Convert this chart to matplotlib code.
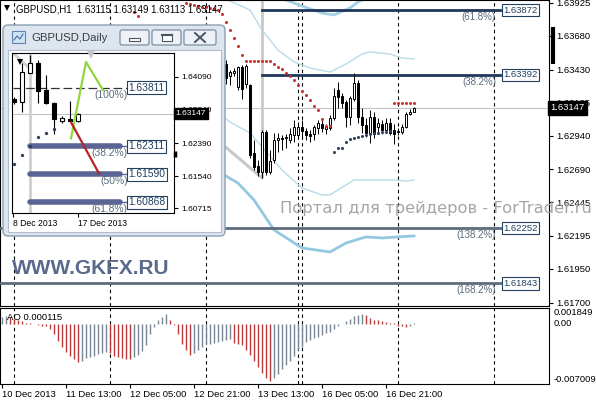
import numpy as np
import matplotlib.pyplot as plt
from matplotlib.patches import Rectangle, FancyBboxPatch
from matplotlib import transforms

plt.rcParams['font.family'] = ['Liberation Sans', 'DejaVu Sans']

W, H = 596, 400

# ---------------- GBPUSD H1 (bar 0 = 10 Dec 21:00) ----------------
bar_k = list(range(56, 104))
bar_open = [1.63472, 1.63383, 1.63405, 1.63301, 1.63450, 1.63323, 1.63316, 1.62811,
            1.62715, 1.62670, 1.62967, 1.62670, 1.62759, 1.62908, 1.62922, 1.62922,
            1.62908, 1.62945, 1.62945, 1.63004, 1.62974, 1.62952, 1.62952, 1.62997,
            1.63026, 1.62989, 1.62997, 1.63071, 1.63279, 1.63234, 1.63190, 1.63078,
            1.63212, 1.63331, 1.63078, 1.63019, 1.62960, 1.63078, 1.63004, 1.63026,
            1.62982, 1.63034, 1.62982, 1.62967, 1.62967, 1.63004, 1.63101, 1.63115]
bar_high = [1.63502, 1.63427, 1.63442, 1.63457, 1.63464, 1.63472, 1.63323, 1.62908,
            1.62759, 1.62982, 1.62982, 1.62833, 1.62960, 1.62960, 1.62945, 1.62952,
            1.62997, 1.63056, 1.63041, 1.63056, 1.62997, 1.62982, 1.63019, 1.63056,
            1.63056, 1.63026, 1.63093, 1.63294, 1.63338, 1.63257, 1.63205, 1.63234,
            1.63405, 1.63353, 1.63145, 1.63071, 1.63130, 1.63116, 1.63071, 1.63056,
            1.63071, 1.63071, 1.63026, 1.62997, 1.63026, 1.63116, 1.63138, 1.63149]
bar_low = [1.63323, 1.63316, 1.63383, 1.63279, 1.63212, 1.63294, 1.62774, 1.62685,
           1.62640, 1.62626, 1.62648, 1.62655, 1.62737, 1.62819, 1.62833, 1.62848,
           1.62885, 1.62893, 1.62930, 1.62922, 1.62908, 1.62893, 1.62908, 1.62952,
           1.62967, 1.62952, 1.62982, 1.63056, 1.63145, 1.63145, 1.63004, 1.63019,
           1.63197, 1.63034, 1.62960, 1.62930, 1.62885, 1.62922, 1.62960, 1.62952,
           1.62960, 1.62945, 1.62878, 1.62945, 1.62952, 1.62997, 1.63093, 1.63113]
bar_close = [1.63368, 1.63412, 1.63420, 1.63450, 1.63286, 1.63457, 1.62796, 1.62707,
             1.62670, 1.62967, 1.62670, 1.62752, 1.62908, 1.62922, 1.62915, 1.62930,
             1.62952, 1.63004, 1.63004, 1.62974, 1.62945, 1.62937, 1.63004, 1.63034,
             1.62997, 1.63004, 1.63071, 1.63234, 1.63227, 1.63182, 1.63078, 1.63219,
             1.63331, 1.63078, 1.63019, 1.62960, 1.63078, 1.62952, 1.63034, 1.62982,
             1.63034, 1.62960, 1.62952, 1.62974, 1.63004, 1.63101, 1.63116, 1.63147]

sar_red_k = [33, 34] + list(range(46, 83)) + list(range(98, 104))
sar_red_v = [1.63858, 1.63828,
             1.63925, 1.63918, 1.63910, 1.63903, 1.63895, 1.63892, 1.63888, 1.63880,
             1.63873, 1.63843, 1.63784, 1.63725, 1.63665, 1.63606, 1.63539,
             1.63494, 1.63494, 1.63494, 1.63494, 1.63494, 1.63494, 1.63494,
             1.63472, 1.63450, 1.63435, 1.63405, 1.63383, 1.63353, 1.63316, 1.63272,
             1.63242, 1.63205, 1.63160, 1.63131, 1.63064, 1.63012, 1.63012,
             1.63179, 1.63179, 1.63179, 1.63179, 1.63179, 1.63179]
sar_blue_k = list(range(83, 98))
sar_blue_v = [1.62819, 1.62848, 1.62848, 1.62893, 1.62915, 1.62922, 1.62930, 1.62937,
              1.62945, 1.62952, 1.62960, 1.62960, 1.62967, 1.62967, 1.62974]

band_a_k = [71, 75, 80, 83, 87, 89, 91]
band_a_v = [1.63947, 1.63902, 1.63850, 1.63836, 1.63888, 1.63932, 1.63962]
band_b_k = [56, 57, 62, 65, 69, 73, 77, 82, 86, 90, 92, 97, 100, 103]
band_b_v = [1.63954, 1.63940, 1.63873, 1.63724, 1.63576, 1.63487, 1.63442, 1.63412,
            1.63472, 1.63546, 1.63561, 1.63546, 1.63516, 1.63509]
band_c_k = [56, 57, 62, 70, 75, 80, 82, 88, 98, 101, 103]
band_c_v = [1.63064, 1.63041, 1.62960, 1.62685, 1.62551, 1.62500, 1.62500, 1.62611,
            1.62611, 1.62603, 1.62611]
band_d_k = [56, 59, 63, 68, 75, 82, 86, 91, 95, 99, 103]
band_d_v = [1.62640, 1.62588, 1.62462, 1.62240, 1.62106, 1.62076, 1.62143, 1.62188,
            1.62180, 1.62188, 1.62195]

trend_k = [50, 65]
trend_v = [1.63004, 1.62626]

fib_levels = [1.63872, 1.63392, 1.62252, 1.61843]
fib_names = ['(61.8%)', '(38.2%)', '(138.2%)', '(168.2%)']
fib_start = [65, 65, -0.5, -0.5]
fib_colors = ['#1f3758', '#1f3758', '#5d6b7c', '#5d6b7c']

separators = [3, 27, 51, 74, 75, 99, 123]
price_ticks = [1.63925, 1.63680, 1.63430, 1.63185, 1.62940, 1.62690, 1.62445,
               1.62195, 1.61950, 1.61700]
last_price = 1.63147

ao_values = [0.0008, 0.0009, 0.0008, 0.0006, 0.0005, 0.0003, 0.0001, 0.00005, -0.00005, -0.0001,
             -0.0002, -0.0003, -0.0006, -0.0012, -0.0020, -0.0027, -0.0033, -0.0038, -0.0041, -0.0045,
             -0.0043, -0.0040, -0.0039, -0.0037, -0.0035, -0.0034, -0.0033, -0.0034, -0.0037, -0.0039,
             -0.0040, -0.0041, -0.0041, -0.0039, -0.0036, -0.0032, -0.0025, -0.0012, -0.0004, 0.0004,
             0.0008, 0.0011, 0.0004, -0.0001, -0.0012, -0.0023, -0.0030, -0.0036, -0.0034, -0.0031,
             -0.0027, -0.0024, -0.0023, -0.0022, -0.0021, -0.0020, -0.0019, -0.0018, -0.0022, -0.0023,
             -0.0025, -0.0030, -0.0036, -0.0043, -0.0050, -0.0057, -0.0063, -0.0067, -0.0063, -0.0058,
             -0.0053, -0.0048, -0.0043, -0.0037, -0.0031, -0.0027, -0.0021, -0.0019, -0.0017, -0.0015,
             -0.0013, -0.0011, -0.0009, -0.0006, -0.0003, 0.00002, 0.0003, 0.0006, 0.0009, 0.0010,
             0.0011, 0.0010, 0.0007, 0.0005, 0.0004, 0.0003, 0.0002, 0.0001, 0.00005, -0.0002,
             -0.0003, -0.0004, -0.0002, 0.000115]
date_k = [0, 16, 32, 48, 64, 80, 96]
date_labels = ['10 Dec 2013', '11 Dec 13:00', '12 Dec 05:00', '12 Dec 21:00',
               '13 Dec 13:00', '16 Dec 05:00', '16 Dec 21:00']

# ---------------- GBPUSD Daily (inset) ----------------
day_k = list(range(9))
day_open = [1.63516, 1.63438, 1.64185, 1.64443, 1.63747, 1.63413, 1.62949, 1.63000, 1.62949]
day_high = [1.63567, 1.64443, 1.64649, 1.64520, 1.64134, 1.63438, 1.63078, 1.63464, 1.63155]
day_low = [1.63387, 1.63181, 1.64185, 1.63413, 1.63387, 1.62614, 1.62897, 1.62923, 1.62923]
day_close = [1.63438, 1.64211, 1.64443, 1.63722, 1.63413, 1.63000, 1.63026, 1.62949, 1.63147]
day_sar_k = [0, 1, 2, 3, 4, 5]
day_sar_v = [1.61841, 1.62073, 1.62305, 1.62537, 1.62640, 1.62743]
zig_green_k = [7.125, 9.0, 11.125]
zig_green_v = [1.62511, 1.64469, 1.63747]
zig_red_k = [7.125, 10.625]
zig_red_v = [1.62923, 1.61609]
day_fib_top = 1.63811
day_fib_levels = [1.62311, 1.61590, 1.60868]
day_fib_names = ['(38.2%)', '(50%)', '(61.8%)']
day_ticks = [1.64090, 1.63240, 1.62390, 1.61540, 1.60715]
day_date_k = [-0.125, 8]
day_date_labels = ['8 Dec 2013', '17 Dec 2013']


def box(x0, y0, x1, y1):
    return [x0 / W, 1 - y1 / H, (x1 - x0) / W, (y1 - y0) / H]


def candles(ax, ks, o, h, l, c, width, lw):
    o, h, l, c = map(np.array, (o, h, l, c))
    ax.vlines(ks, l, h, color='black', lw=lw, zorder=4)
    bottom = np.minimum(o, c)
    height = np.maximum(np.abs(c - o), 0.000005)
    face = ['white' if cc >= oo else 'black' for oo, cc in zip(o, c)]
    ax.bar(ks, height, bottom=bottom, width=width, color=face,
           edgecolor='black', lw=lw, zorder=5)


fig = plt.figure(figsize=(W / 100, H / 100), dpi=100)
fig.patch.set_facecolor('white')

# ---------------- main chart ----------------
ax = fig.add_axes(box(0, 0, 549, 306), zorder=1)
ax.set_xlim(-0.5, 136.75)
ax.set_ylim(1.61675, 1.63947)
for s in ax.spines.values():
    s.set_linewidth(0.8)
ax.set_xticks([])
ax.yaxis.tick_right()
ax.set_yticks(price_ticks)
ax.set_yticklabels(['%.5f' % v for v in price_ticks], fontsize=6.8)
ax.tick_params(axis='y', length=3, width=0.8, pad=2)

for k in separators:
    ax.axvline(k, color='black', lw=0.8, ls=(0, (3, 3)), zorder=1)
ax.axhline(last_price, color='#c4c4c4', lw=0.8, zorder=1)

ax.plot(band_a_k, band_a_v, color='#a3d1e6', lw=2, zorder=2)
ax.plot(band_b_k, band_b_v, color='#b8dbea', lw=1, zorder=2)
ax.plot(band_c_k, band_c_v, color='#b8dbea', lw=1, zorder=2)
ax.plot(band_d_k, band_d_v, color='#93c8e0', lw=2, zorder=2)
ax.plot(trend_k, trend_v, color='#c9c9c9', lw=2.2, zorder=2)
ax.vlines(65, trend_v[1], 1.63947, color='#c9c9c9', lw=2, zorder=2)

for lev, name, k0, col in zip(fib_levels, fib_names, fib_start, fib_colors):
    ax.plot([k0, 124.5], [lev, lev], color=col, lw=2, zorder=3)
    ax.text(125.3, lev, '%.5f' % lev, fontsize=6.8, color='#22405f', va='center',
            ha='left', zorder=6,
            bbox=dict(boxstyle='square,pad=0.18', fc='white', ec='#22405f', lw=0.8))
    ax.annotate(name, (123.5, lev), xytext=(0, -1.5), textcoords='offset points',
                ha='right', va='top', fontsize=7, color='#5b6b7b', zorder=6)

candles(ax, bar_k, bar_open, bar_high, bar_low, bar_close, 0.7, 0.7)
ax.plot(sar_red_k, sar_red_v, ls='none', marker='o', ms=2.2, color='#c83232', mew=0, zorder=6)
ax.plot(sar_blue_k, sar_blue_v, ls='none', marker='o', ms=2.2, color='#2f3f5f', mew=0, zorder=6)

tr = transforms.blended_transform_factory(ax.transAxes, ax.transData)
ax.text(1.003, last_price, '%.5f' % last_price, transform=tr, fontsize=6.8, color='white',
        va='center', ha='left', clip_on=False, zorder=8,
        bbox=dict(boxstyle='square,pad=0.25', fc='black', ec='black'))

# ---------------- AO subwindow ----------------
ao = fig.add_axes(box(0, 308, 549, 384), zorder=1)
ao.set_xlim(-0.5, 136.75)
ao.set_ylim(-0.007009, 0.001849)
for s in ao.spines.values():
    s.set_linewidth(0.8)
ao.set_yticks([])
for k in separators:
    ao.axvline(k, color='black', lw=0.8, ls=(0, (3, 3)), zorder=1)
ao_cols = ['#7a8796' if i == 0 or v > ao_values[i - 1] else '#b83a3a'
           for i, v in enumerate(ao_values)]
ao.vlines(range(len(ao_values)), 0, ao_values, colors=ao_cols, lw=1.0, zorder=3)
ao.set_xticks(date_k)
ao.set_xticklabels(date_labels, fontsize=6.8, ha='left')
ao.tick_params(axis='x', length=3, width=0.8, pad=1)
tra = transforms.blended_transform_factory(ao.transAxes, ao.transData)
ao.text(1.008, 0.001849, '0.001849', transform=tra, fontsize=6.8, va='top', clip_on=False)
ao.text(1.008, 0.0, '0.00', transform=tra, fontsize=6.8, va='center', clip_on=False)
ao.text(1.008, -0.007009, '-0.007009', transform=tra, fontsize=6.8, va='bottom', clip_on=False)
ao.text(0.012, 0.88, 'AO 0.000115', transform=ao.transAxes, fontsize=6.8, va='center')

# ---------------- inset window chrome ----------------
axc = fig.add_axes([0, 0, 1, 1], zorder=2)
axc.set_xlim(0, W)
axc.set_ylim(H, 0)
axc.axis('off')
axc.patch.set_alpha(0)
axc.add_patch(FancyBboxPatch((3, 25), 222, 211, boxstyle='round,pad=0,rounding_size=5',
                             fc='#dde6ef', ec='#8c9fb4', lw=1))
axc.add_patch(Rectangle((8, 50), 213, 182, fc='white', ec='#b0bdcb', lw=0.8))
axc.add_patch(Rectangle((12, 31), 13, 12, fc='#cfe3f3', ec='#5f86ad', lw=0.8))
axc.plot([14, 17, 20, 23], [40, 36, 39, 34], color='#3a6ea5', lw=0.8)
axc.text(31, 38, 'GBPUSD,Daily', fontsize=8.2, color='#3c3c3c', va='center', ha='left')
for bx0, bx1 in [(120, 149), (152, 181), (184, 216)]:
    axc.add_patch(FancyBboxPatch((bx0, 30), bx1 - bx0, 15, boxstyle='round,pad=0,rounding_size=2',
                                 fc='#eef2f7', ec='#7e8da0', lw=0.9))
axc.add_patch(Rectangle((129, 38), 11, 3, fc='white', ec='#4a5563', lw=0.8))
axc.add_patch(Rectangle((162, 34), 10, 7, fc='white', ec='#4a5563', lw=0.8))
axc.plot([162, 172], [35, 35], color='#4a5563', lw=1.5)
axc.plot([195, 205], [33, 42], color='#4a5563', lw=1.4)
axc.plot([195, 205], [42, 33], color='#4a5563', lw=1.4)

# ---------------- inset daily chart ----------------
ai = fig.add_axes(box(12, 53, 174, 213), zorder=3)
ai.set_xlim(-0.25, 20.0)
ai.set_ylim(1.60594, 1.64700)
for s in ai.spines.values():
    s.set_linewidth(0.8)
ai.yaxis.tick_right()
ai.set_yticks(day_ticks)
ai.set_yticklabels(['%.5f' % v for v in day_ticks], fontsize=6)
ai.tick_params(axis='y', length=3, width=0.8, pad=2)
ai.set_xticks(day_date_k)
ai.set_xticklabels(day_date_labels, fontsize=6.2, ha='left')
ai.tick_params(axis='x', length=3, width=0.8, pad=1)

ai.axhline(last_price, color='#c4c4c4', lw=0.8, zorder=1)
ai.axvline(2, color='#cfcfcf', lw=2, zorder=1)
ai.plot([-0.125, 1.625], [1.64700, 1.64366], color='#cfcfcf', lw=2, zorder=1)

ai.plot([-0.125, 14.1], [day_fib_top, day_fib_top], color='#333333', lw=0.9,
        ls=(0, (7, 3)), zorder=2)
ai.text(14.3, day_fib_top, '%.5f' % day_fib_top, fontsize=7.4, color='#22405f', va='center',
        ha='left', zorder=6,
        bbox=dict(boxstyle='square,pad=0.15', fc='white', ec='#22405f', lw=0.8))
ai.annotate('(100%)', (14.2, day_fib_top), xytext=(0, -1.5), textcoords='offset points',
            ha='right', va='top', fontsize=7.4, color='#5b6b7b', zorder=6)
for lev, name in zip(day_fib_levels, day_fib_names):
    ai.plot([2, 13.25], [lev, lev], color='#5b6595', lw=4, solid_capstyle='round', zorder=3)
    ai.plot([13.25, 14.2], [lev, lev], color='#5b6595', lw=1, zorder=3)
    ai.text(14.3, lev, '%.5f' % lev, fontsize=7.4, color='#22405f', va='center',
            ha='left', zorder=6,
            bbox=dict(boxstyle='square,pad=0.15', fc='white', ec='#22405f', lw=0.8))
    ai.annotate(name, (14.2, lev), xytext=(0, -1.5), textcoords='offset points',
                ha='right', va='top', fontsize=7.4, color='#5b6b7b', zorder=6,
                annotation_clip=False, clip_on=True)

candles(ai, day_k, day_open, day_high, day_low, day_close, 0.6, 0.8)
ai.plot(day_sar_k, day_sar_v, ls='none', marker='o', ms=2.4, color='#2f3f5f', mew=0, zorder=6)
ai.plot(zig_green_k, zig_green_v, color='#94d43c', lw=1.6, zorder=6)
ai.plot(zig_red_k, zig_red_v, color='#b52525', lw=1.6, zorder=6)

tri = transforms.blended_transform_factory(ai.transAxes, ai.transData)
ai.text(1.01, last_price, '%.5f' % last_price, transform=tri, fontsize=6, color='white',
        va='center', ha='left', clip_on=False, zorder=8,
        bbox=dict(boxstyle='square,pad=0.25', fc='black', ec='black'))

# ---------------- overlay (texts over everything) ----------------
ov = fig.add_axes([0, 0, 1, 1], zorder=4)
ov.set_xlim(0, W)
ov.set_ylim(H, 0)
ov.axis('off')
ov.patch.set_alpha(0)
ov.plot([7], [8], marker='v', ms=4, color='black', mew=0)
ov.plot([20], [62], marker='v', ms=4, color='black', mew=0)
ov.plot([91], [55], marker='v', ms=6, color='#c6c6c6', mew=0)
ov.text(16, 9, 'GBPUSD,H1  1.63115 1.63149 1.63113 1.63147', fontsize=6.9,
        va='center', ha='left')
ov.plot([552.5, 552.5], [27, 64], color='black', lw=3, solid_capstyle='butt')
ov.plot([174.5, 174.5], [151, 157], color='black', lw=2.5, solid_capstyle='butt')
ov.text(12, 268, 'WWW.GKFX.RU', fontsize=15, fontweight='bold', color='#5a6a8d',
        va='center', ha='left')
ov.text(280, 209, 'Портал для трейдеров - ForTrader.ru', fontsize=11.8, color='#a6a6a6',
        va='center', ha='left', family=['DejaVu Sans'])

fig.savefig('out.png', dpi=100)
